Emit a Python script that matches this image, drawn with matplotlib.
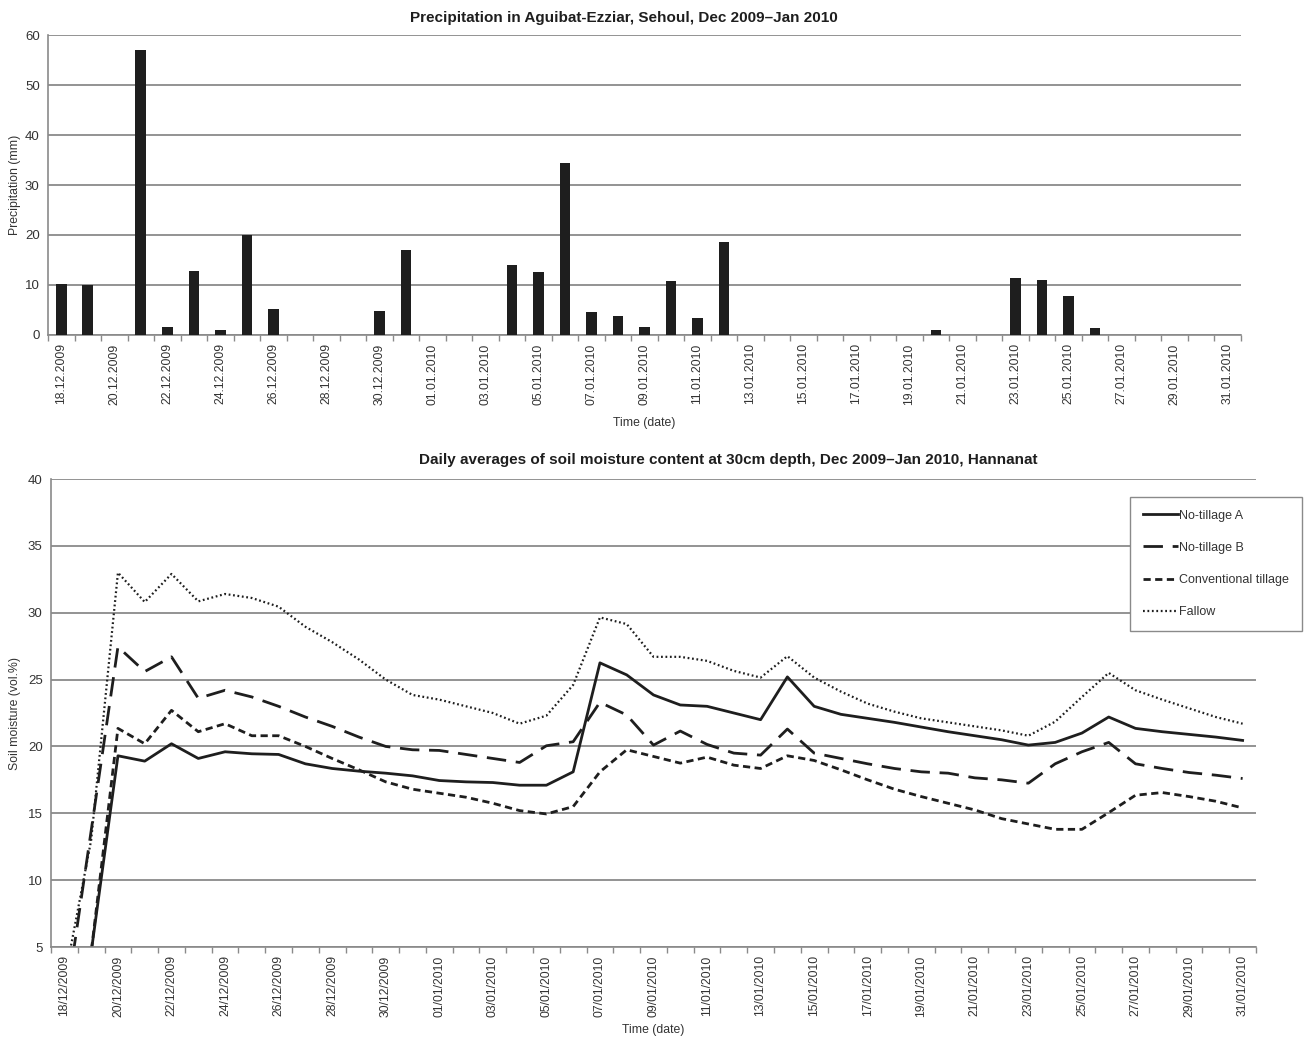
import numpy as np
import pandas as pd
import matplotlib
matplotlib.use("Agg")
import matplotlib.pyplot as plt

plt.rcParams['font.family'] = ['Liberation Sans', 'DejaVu Sans']

# Daily categories, 18 Dec 2009 – 31 Jan 2010
days = pd.date_range("2009-12-18", "2010-01-31", freq="D")
precip_labels = [d.strftime("%d.%m.%Y") for d in days]
moist_labels = [d.strftime("%d/%m/%Y") for d in days]

# Daily precipitation (mm)
precipitation = [10.2, 10.0, 0, 57.0, 1.5, 12.7, 1.0, 20.0, 5.1, 0,
                 0, 0, 4.7, 17.0, 0, 0, 0, 14.0, 12.5, 34.3,
                 4.5, 3.8, 1.5, 10.7, 3.3, 18.5, 0, 0, 0, 0,
                 0, 0, 0, 1.0, 0, 0, 11.3, 11.0, 7.7, 1.3,
                 0, 0, 0, 0, 0]

# Daily average soil moisture at 30 cm (vol.%)
no_tillage_a = [0, 4.6, 19.3, 18.9, 20.2, 19.1, 19.6, 19.45, 19.4, 18.7,
                18.35, 18.15, 18.0, 17.8, 17.45, 17.35, 17.3, 17.1, 17.1, 18.1,
                26.25, 25.35, 23.85, 23.1, 23.0, 22.5, 22.0, 25.2, 23.0, 22.4,
                22.1, 21.8, 21.45, 21.1, 20.8, 20.5, 20.1, 20.3, 21.0, 22.2,
                21.35, 21.1, 20.9, 20.7, 20.45]
no_tillage_b = [0, 13.7, 27.45, 25.6, 26.7, 23.6, 24.2, 23.7, 23.0, 22.2,
                21.5, 20.7, 20.0, 19.75, 19.7, 19.4, 19.1, 18.8, 20.05, 20.35,
                23.3, 22.35, 20.1, 21.15, 20.15, 19.5, 19.35, 21.3, 19.5, 19.1,
                18.7, 18.35, 18.1, 18.0, 17.65, 17.5, 17.25, 18.7, 19.6, 20.3,
                18.7, 18.35, 18.05, 17.85, 17.6]
conventional = [0, 4.6, 21.35, 20.2, 22.7, 21.1, 21.7, 20.8, 20.8, 20.0,
                19.1, 18.25, 17.35, 16.8, 16.5, 16.2, 15.75, 15.2, 14.95, 15.5,
                18.1, 19.75, 19.25, 18.75, 19.2, 18.6, 18.35, 19.3, 18.95, 18.25,
                17.5, 16.8, 16.25, 15.75, 15.25, 14.6, 14.2, 13.8, 13.8, 15.05,
                16.35, 16.55, 16.25, 15.9, 15.4]
fallow = [2.5, 13.0, 33.0, 30.8, 32.9, 30.85, 31.4, 31.1, 30.45, 28.95,
          27.8, 26.5, 25.0, 23.85, 23.5, 23.0, 22.5, 21.7, 22.3, 24.6,
          29.65, 29.15, 26.7, 26.7, 26.4, 25.65, 25.15, 26.75, 25.15, 24.1,
          23.2, 22.6, 22.1, 21.8, 21.5, 21.2, 20.8, 21.85, 23.7, 25.5,
          24.2, 23.5, 22.85, 22.2, 21.7]

W, H = 1310, 1037
fig = plt.figure(figsize=(W / 100, H / 100), dpi=100)

def fx(px):
    return px / W

def fy(py):
    return 1 - py / H

GRID = "#8a8a8a"
INK = "#1e1e1e"
TXT = "#333333"

def style_category_axis(ax, labels):
    n = len(labels)
    ax.set_xlim(-0.5, n - 0.5)
    ax.set_xticks(np.arange(n + 1) - 0.5)
    ax.set_xticklabels([])
    ax.tick_params(axis="x", which="major", direction="out", length=4,
                   width=1, color=GRID)
    idx = np.arange(0, n, 2)
    ax.set_xticks(idx, minor=True)
    ax.set_xticklabels([labels[i] for i in idx], minor=True, rotation=90,
                       fontsize=8.8, color=TXT)
    ax.tick_params(axis="x", which="minor", length=0, pad=6)
    ax.tick_params(axis="y", length=0, labelsize=9.5, labelcolor=TXT, pad=6)
    for s in ("top", "right"):
        ax.spines[s].set_visible(False)
    for s in ("left", "bottom"):
        ax.spines[s].set_color(GRID)
        ax.spines[s].set_linewidth(1.2)
    ax.yaxis.grid(True, color=GRID, linewidth=1.3)
    ax.set_axisbelow(True)

# --- Precipitation bars ---
ax1 = fig.add_axes([fx(48), fy(335), fx(1241 - 48), (335 - 35) / H])
x = np.arange(len(days))
ax1.bar(x, precipitation, width=0.4, color=INK, zorder=3)
ax1.set_ylim(0, 60)
ax1.set_yticks(np.arange(0, 61, 10))
style_category_axis(ax1, precip_labels)
ax1.set_ylabel("Precipitation (mm)", fontsize=8.8, color=TXT, labelpad=3)
ax1.set_xlabel("Time (date)", fontsize=8.8, color=TXT, labelpad=9)
fig.text(fx(624), fy(18), "Precipitation in Aguibat-Ezziar, Sehoul, Dec 2009\u2013Jan 2010",
         ha="center", va="center", fontsize=11, fontweight="bold", color=INK)

# --- Soil moisture lines ---
ax2 = fig.add_axes([fx(51), fy(947), fx(1256 - 51), (947 - 479) / H])
ax2.plot(x, no_tillage_a, color=INK, lw=2.0, label="No-tillage A")
ax2.plot(x, no_tillage_b, color=INK, lw=2.0, dashes=(7, 3.5), label="No-tillage B")
ax2.plot(x, conventional, color=INK, lw=2.0, dashes=(2.6, 1.6), label="Conventional tillage")
ax2.plot(x, fallow, color=INK, lw=1.6, dashes=(0.8, 1.2), label="Fallow")
ax2.set_ylim(5, 40)
ax2.set_yticks(np.arange(5, 41, 5))
style_category_axis(ax2, moist_labels)
ax2.set_ylabel("Soil moisture (vol.%)", fontsize=8.8, color=TXT, labelpad=5)
ax2.set_xlabel("Time (date)", fontsize=8.8, color=TXT, labelpad=5)
fig.text(fx(728), fy(460),
         "Daily averages of soil moisture content at 30cm depth, Dec 2009\u2013Jan 2010, Hannanat",
         ha="center", va="center", fontsize=11, fontweight="bold", color=INK)

leg = ax2.legend(loc="upper left", bbox_to_anchor=(fx(1130), fy(497)),
                 bbox_transform=fig.transFigure, fontsize=9, frameon=True,
                 fancybox=False, framealpha=1, edgecolor=GRID,
                 handlelength=2.8, handletextpad=0.15, labelspacing=1.62,
                 borderpad=1.0, borderaxespad=0)
leg.get_frame().set_linewidth(1.0)
for t in leg.get_texts():
    t.set_color(TXT)

fig.savefig("out.png", dpi=100, facecolor="white")
